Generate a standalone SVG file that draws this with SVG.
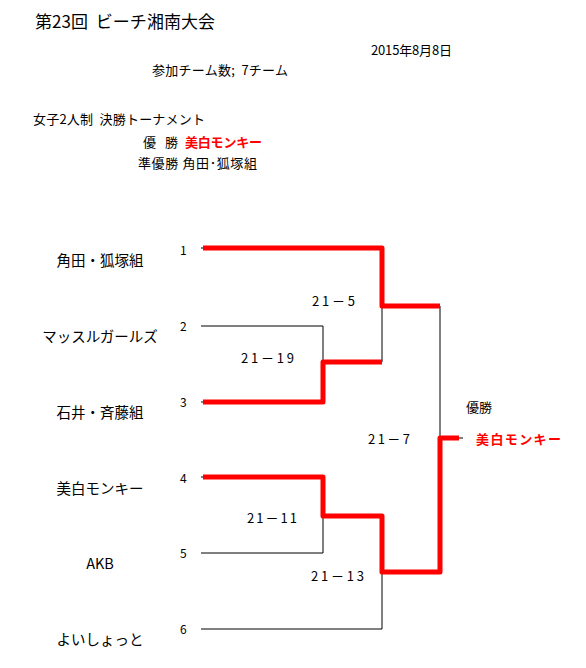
<svg xmlns="http://www.w3.org/2000/svg" width="586" height="668" viewBox="0 0 586 668">
<style>
text{font-family:"Noto Sans CJK JP","Noto Sans",sans-serif;fill:#000}
.t{font-size:17px}
.s{font-size:13px}
.n{font-size:14.5px;text-anchor:middle}
.num{font-size:12px}
.sc{font-size:13px}
.red{fill:#ff0000;font-weight:bold}
.thin{fill:none;stroke:#000;stroke-width:1}
.win{fill:none;stroke:#ff0000;stroke-width:5;stroke-linejoin:round;stroke-linecap:butt}
</style>
<rect width="586" height="668" fill="#fff"/>
<g id="header">
<text class="t" x="35" y="28" textLength="180" lengthAdjust="spacing" xml:space="preserve">第23回  ビーチ湘南大会</text>
<text class="s" x="371" y="55" textLength="81" lengthAdjust="spacing">2015年8月8日</text>
<text class="s" x="152" y="75" textLength="136" lengthAdjust="spacing" xml:space="preserve">参加チーム数;  7チーム</text>
<text class="s" x="33" y="124" font-size="14" textLength="172" lengthAdjust="spacing" xml:space="preserve">女子2人制  決勝トーナメント</text>
<text class="s" x="143" y="147" textLength="35" lengthAdjust="spacing" xml:space="preserve">優  勝</text>
<text class="s red" x="185" y="147" font-size="14" textLength="77" lengthAdjust="spacing">美白モンキー</text>
<text class="s" x="138" y="168" textLength="119" lengthAdjust="spacing">準優勝 角田･狐塚組</text>
</g>
<g id="connectors">
<path class="thin" d="M201 248H203M201 326H323V362M201 402H203M201 477H203M201 553H323V516M201 629H382V572M382 306V362M440 306V438M440 438H463"/>
<path class="win" d="M203 248H382V306H440"/>
<path class="win" d="M203 402H323V362H382"/>
<path class="win" d="M203 477H323V516H382V572H440V438H459"/>
</g>
<g id="team1"><text class="n" x="100" y="266">角田・狐塚組</text><text class="num" x="180" y="255">1</text></g>
<g id="team2"><text class="n" x="100" y="342">マッスルガールズ</text><text class="num" x="180" y="331">2</text></g>
<g id="team3"><text class="n" x="100" y="418">石井・斉藤組</text><text class="num" x="180" y="407">3</text></g>
<g id="team4"><text class="n" x="100" y="494">美白モンキー</text><text class="num" x="180" y="483">4</text></g>
<g id="team5"><text class="n" x="100" y="569">AKB</text><text class="num" x="180" y="558">5</text></g>
<g id="team6"><text class="n" x="100" y="645">よいしょっと</text><text class="num" x="180" y="634">6</text></g>
<g id="scores">
<text class="sc" x="312" y="306" textLength="43" lengthAdjust="spacing">21－5</text>
<text class="sc" x="241" y="363" textLength="53" lengthAdjust="spacing">21－19</text>
<text class="sc" x="368" y="444" textLength="42" lengthAdjust="spacing">21－7</text>
<text class="sc" x="247" y="523" textLength="50" lengthAdjust="spacing">21－11</text>
<text class="sc" x="311" y="581" textLength="53" lengthAdjust="spacing">21－13</text>
</g>
<g id="champion">
<text class="s" x="466" y="412" font-size="12">優勝</text>
<text class="s red" x="476" y="444" font-size="14" textLength="85" lengthAdjust="spacing">美白モンキー</text>
</g>
</svg>
